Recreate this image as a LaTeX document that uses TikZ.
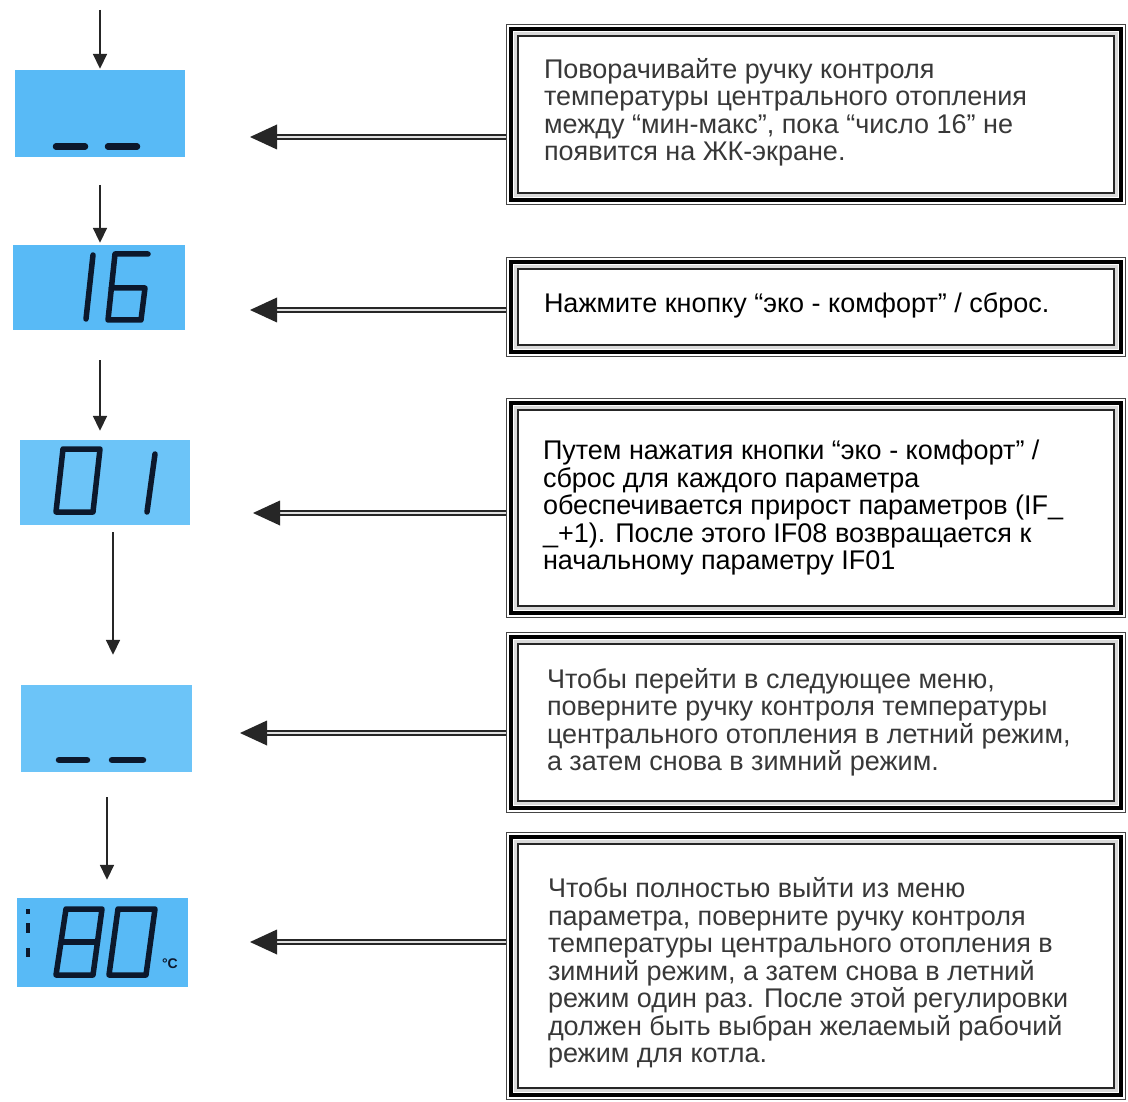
\documentclass[tikz,border=0pt]{standalone}
\usepackage{fontspec}
\setmainfont{Liberation Sans}
\usetikzlibrary{arrows.meta}
\definecolor{lcdA}{RGB}{88,186,246}
\definecolor{lcdB}{RGB}{108,196,248}
\definecolor{ink}{RGB}{12,24,44}
\newcommand\triframe[1]{%
  \draw[gray!30, line width=3pt] ([shift={(9.5pt,-9.5pt)}]#1.north west) rectangle ([shift={(-9.5pt,9.5pt)}]#1.south east);
  \draw[gray!55!black, line width=1.4pt] ([shift={(0.7pt,-0.7pt)}]#1.north west) rectangle ([shift={(-0.7pt,0.7pt)}]#1.south east);
  \draw[black, line width=4.5pt] ([shift={(5.2pt,-5.2pt)}]#1.north west) rectangle ([shift={(-5.2pt,5.2pt)}]#1.south east);
  \draw[black!85, line width=2pt] ([shift={(12.5pt,-12.5pt)}]#1.north west) rectangle ([shift={(-12.5pt,12.5pt)}]#1.south east);
}
\begin{document}
\begin{tikzpicture}[x=1pt,y=-1pt,
  lcd/.style={fill=lcdA, inner sep=0pt},
  lcdlight/.style={lcd, fill=lcdB},
  seg/.style={draw=ink, line width=5.5pt, line join=round, line cap=round},
  lcddash/.style={draw=ink, line width=6.5pt, line cap=round},
  vflow/.style={draw=black!85, line width=1.8pt, -{Triangle[length=15pt,width=14pt]}},
  link/.style={draw=black!85, line width=1.6pt, double=gray!25, double distance=2.8pt},
  head/.style={fill=black!85},
  tbox/.style={minimum width=620pt, inner sep=0pt, fill=white},
  txt/.style={align=left, inner sep=0pt, font=\fontsize{27}{27.5}\selectfont, text=black!78},
  txtdark/.style={txt, text=black},
]
\useasboundingbox (0,0) rectangle (1128,1102);
\fill[white] (0,0) rectangle (1128,1102);

% LCD displays
\node[lcd, minimum width=170pt, minimum height=87pt] (d1) at (100,113.5) {};
\node[lcd, minimum width=172pt, minimum height=85pt] (d2) at (99,287.5) {};
\node[lcdlight, minimum width=170pt, minimum height=85pt] (d3) at (105,482.5) {};
\node[lcdlight, minimum width=171pt, minimum height=87pt] (d4) at (106.5,728.5) {};
\node[lcd, minimum width=171pt, minimum height=89pt] (d5) at (102.5,942.5) {};

% display contents
\draw[lcddash] (56,146.5) -- (85,146.5);
\draw[lcddash] (108,146.5) -- (137,146.5);
\draw[seg] (93,255) -- (86,319);
\draw[seg] (148,254) -- (115,254) -- (108,320) -- (141,320) -- (145,288) -- (111,288);
\draw[seg] (63,449) -- (100,449) -- (93,512) -- (56,512) -- cycle;
\draw[seg] (155,454) -- (147,512);
\draw[lcddash] (59,760) -- (87,760);
\draw[lcddash] (112,760) -- (143,760);
\draw[seg] (66,909) -- (102,909) -- (93,975) -- (56,975) -- cycle;
\draw[seg] (61.5,942) -- (97.5,942);
\draw[seg] (118,909) -- (155,909) -- (146,975) -- (109,975) -- cycle;
\node[inner sep=0pt, text=ink, font=\fontsize{14}{14}\selectfont\bfseries] (deg) at (170,964) {°C};
\fill[ink] (26,909) rectangle (29.5,914);
\fill[ink] (26,923) rectangle (30,933);
\fill[ink] (26,948) rectangle (29.5,957);

% vertical flow arrows
\coordinate (v1) at (100,10);
\coordinate (v2) at (100,185);
\coordinate (v3) at (100,360);
\coordinate (v4) at (113,532);
\coordinate (v5) at (107,797);
\draw[vflow, shorten >=1pt] (v1) -- (v1 |- d1.north);
\draw[vflow, shorten >=2pt] (v2) -- (v2 |- d2.north);
\draw[vflow, shorten >=9pt] (v3) -- (v3 |- d3.north);
\draw[vflow, shorten >=30pt] (v4) -- (v4 |- d4.north);
\draw[vflow, shorten >=18pt] (v5) -- (v5 |- d5.north);

% text boxes
\node[tbox, minimum height=181pt] (b1) at (816,114.5) {};
\node[tbox, minimum height=100pt] (b2) at (816,307) {};
\node[tbox, minimum height=220pt] (b3) at (816,508) {};
\node[tbox, minimum height=181pt] (b4) at (816,722.5) {};
\node[tbox, minimum height=268pt] (b5) at (816,966) {};
\triframe{b1}
\triframe{b2}
\triframe{b3}
\triframe{b4}
\triframe{b5}

\node[txt, anchor=west, xshift=38pt, yshift=2pt] (t1) at (b1.west) {Поворачивайте ручку контроля\\температуры центрального отопления\\между “мин-макс”, пока “число 16” не\\появится на ЖК-экране.};
\node[txtdark, anchor=west, xshift=38pt, yshift=2pt] (t2) at (b2.west) {Нажмите кнопку “эко - комфорт” / сброс.};
\node[txtdark, anchor=west, xshift=37pt] (t3) at (b3.west) {Путем нажатия кнопки “эко - комфорт” /\\сброс для каждого параметра\\обеспечивается прирост параметров (IF\_\\\_+1). После этого IF08 возвращается к\\начальному параметру IF01};
\node[txt, anchor=west, xshift=41pt] (t4) at (b4.west) {Чтобы перейти в следующее меню,\\поверните ручку контроля температуры\\центрального отопления в летний режим,\\а затем снова в зимний режим.};
\node[txt, anchor=west, xshift=42pt, yshift=-7pt] (t5) at (b5.west) {Чтобы полностью выйти из меню\\параметра, поверните ручку контроля\\температуры центрального отопления в\\зимний режим, а затем снова в летний\\режим один раз. После этой регулировки\\должен быть выбран желаемый рабочий\\режим для котла.};

% connectors from text boxes to displays
\coordinate (h1) at (250,137);
\coordinate (h2) at (250,310);
\coordinate (h3) at (253,513);
\coordinate (h4) at (240,733);
\coordinate (h5) at (250,942);
\foreach \h/\b in {h1/b1,h2/b2,h3/b3,h4/b4,h5/b5}{
  \draw[link] (\h -| \b.west) -- ([xshift=24pt]\h);
  \fill[head] (\h) -- ++(27,-12.5) -- ++(0,25) -- cycle;
}
\end{tikzpicture}
\end{document}
